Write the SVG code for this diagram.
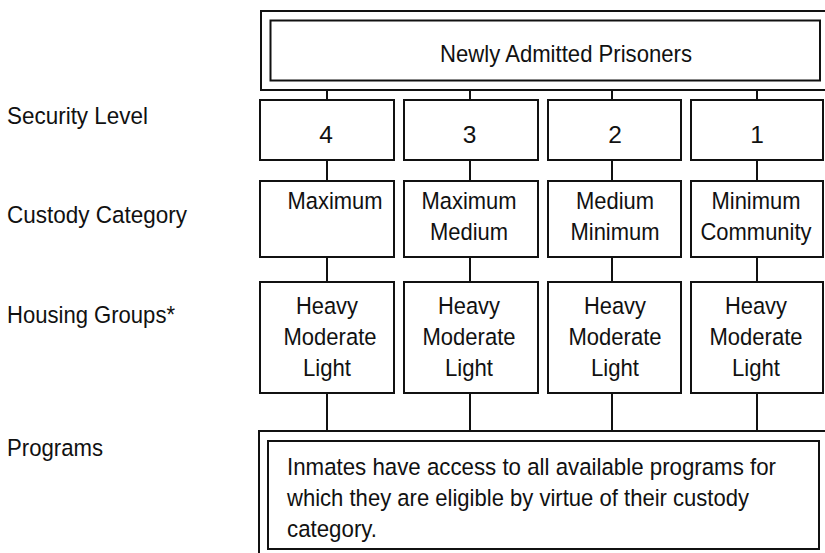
<svg xmlns="http://www.w3.org/2000/svg" width="825" height="553" viewBox="0 0 825 553">
<style>
rect{fill:none;stroke:#111;stroke-width:2}
line{stroke:#111;stroke-width:2}
text{font-family:"Liberation Sans",Arial,Helvetica,sans-serif;font-size:24.5px;fill:#111}
.c{text-anchor:middle}
</style>
<rect x="0" y="0" width="825" height="553" style="fill:#fff;stroke:none"/>
<g id="labels">
<text x="7" y="124" textLength="141" lengthAdjust="spacingAndGlyphs">Security Level</text>
<text x="7" y="223" textLength="180" lengthAdjust="spacingAndGlyphs">Custody Category</text>
<text x="7" y="323" textLength="168" lengthAdjust="spacingAndGlyphs">Housing Groups*</text>
<text x="7" y="456" textLength="96" lengthAdjust="spacingAndGlyphs">Programs</text>
</g>
<g id="connectors">
<line x1="327" y1="90" x2="327" y2="100"/><line x1="470" y1="90" x2="470" y2="100"/><line x1="612" y1="90" x2="612" y2="100"/><line x1="757" y1="90" x2="757" y2="100"/>
<line x1="327" y1="160" x2="327" y2="181"/><line x1="470" y1="160" x2="470" y2="181"/><line x1="612" y1="160" x2="612" y2="181"/><line x1="757" y1="160" x2="757" y2="181"/>
<line x1="327" y1="257" x2="327" y2="282"/><line x1="470" y1="257" x2="470" y2="282"/><line x1="612" y1="257" x2="612" y2="282"/><line x1="757" y1="257" x2="757" y2="282"/>
<line x1="327" y1="393" x2="327" y2="431"/><line x1="470" y1="393" x2="470" y2="431"/><line x1="612" y1="393" x2="612" y2="431"/><line x1="757" y1="393" x2="757" y2="431"/>
</g>
<g id="admitted">
<rect x="261" y="11" width="580" height="79"/>
<rect x="270.5" y="20.5" width="549.5" height="60"/>
<text x="440" y="62" textLength="252" lengthAdjust="spacingAndGlyphs">Newly Admitted Prisoners</text>
</g>
<g id="sec4"><rect x="260" y="100" width="134" height="60"/><text class="c" x="326" y="143">4</text></g>
<g id="sec3"><rect x="404" y="100" width="134" height="60"/><text class="c" x="469.5" y="143">3</text></g>
<g id="sec2"><rect x="548" y="100" width="133" height="60"/><text class="c" x="615" y="143">2</text></g>
<g id="sec1"><rect x="691" y="100" width="132" height="60"/><text class="c" x="757" y="143">1</text></g>
<g id="cust4"><rect x="260" y="181" width="134" height="76"/><text class="c" x="335" y="209" textLength="95" lengthAdjust="spacingAndGlyphs">Maximum</text></g>
<g id="cust3"><rect x="404" y="181" width="134" height="76"/><text class="c" x="469" y="209" textLength="95" lengthAdjust="spacingAndGlyphs">Maximum</text><text class="c" x="469" y="240" textLength="78" lengthAdjust="spacingAndGlyphs">Medium</text></g>
<g id="cust2"><rect x="548" y="181" width="133" height="76"/><text class="c" x="615" y="209" textLength="78" lengthAdjust="spacingAndGlyphs">Medium</text><text class="c" x="615" y="240" textLength="89" lengthAdjust="spacingAndGlyphs">Minimum</text></g>
<g id="cust1"><rect x="691" y="181" width="132" height="76"/><text class="c" x="756" y="209" textLength="89" lengthAdjust="spacingAndGlyphs">Minimum</text><text class="c" x="756" y="240" textLength="111" lengthAdjust="spacingAndGlyphs">Community</text></g>
<g id="house4"><rect x="260" y="282" width="134" height="111"/><text class="c" x="327" y="314" textLength="62" lengthAdjust="spacingAndGlyphs">Heavy</text><text class="c" x="330" y="345" textLength="93" lengthAdjust="spacingAndGlyphs">Moderate</text><text class="c" x="327" y="376" textLength="48" lengthAdjust="spacingAndGlyphs">Light</text></g>
<g id="house3"><rect x="404" y="282" width="134" height="111"/><text class="c" x="469" y="314" textLength="62" lengthAdjust="spacingAndGlyphs">Heavy</text><text class="c" x="469" y="345" textLength="93" lengthAdjust="spacingAndGlyphs">Moderate</text><text class="c" x="469" y="376" textLength="48" lengthAdjust="spacingAndGlyphs">Light</text></g>
<g id="house2"><rect x="548" y="282" width="133" height="111"/><text class="c" x="615" y="314" textLength="62" lengthAdjust="spacingAndGlyphs">Heavy</text><text class="c" x="615" y="345" textLength="93" lengthAdjust="spacingAndGlyphs">Moderate</text><text class="c" x="615" y="376" textLength="48" lengthAdjust="spacingAndGlyphs">Light</text></g>
<g id="house1"><rect x="691" y="282" width="132" height="111"/><text class="c" x="756" y="314" textLength="62" lengthAdjust="spacingAndGlyphs">Heavy</text><text class="c" x="756" y="345" textLength="93" lengthAdjust="spacingAndGlyphs">Moderate</text><text class="c" x="756" y="376" textLength="48" lengthAdjust="spacingAndGlyphs">Light</text></g>
<g id="programs">
<rect x="259" y="431" width="580" height="140"/>
<rect x="268" y="441" width="551" height="108"/>
<text x="287" y="475" textLength="489" lengthAdjust="spacingAndGlyphs">Inmates have access to all available programs for</text>
<text x="287" y="506" textLength="462" lengthAdjust="spacingAndGlyphs">which they are eligible by virtue of their custody</text>
<text x="287" y="537" textLength="90" lengthAdjust="spacingAndGlyphs">category.</text>
</g>
</svg>
